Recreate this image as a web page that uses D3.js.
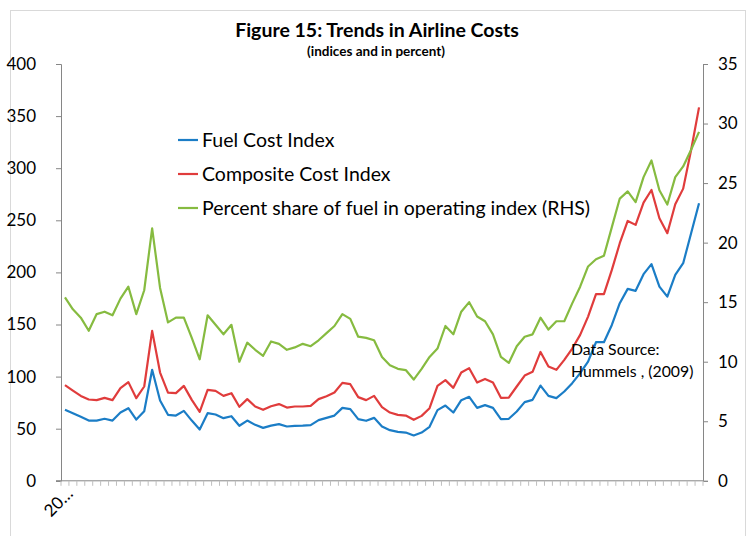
<!DOCTYPE html>
<html>
<head>
<meta charset="utf-8">
<script src="https://cdn.jsdelivr.net/npm/d3@7"></script>
<style>
  body { margin: 0; background: #fff; }
  text { font-family: Lato, "Open Sans", sans-serif; fill: #000; }
</style>
</head>
<body>
<script>
// series, one value per period (81 periods)
var fuelIndex = [68.1, 64.9, 61.4, 57.8, 57.8, 59.5, 57.8, 65.5, 69.7, 58.8, 66.8, 106.5, 77.0, 63.3, 62.6, 67.1, 57.8, 49.2, 64.9, 63.6, 60.1, 62.0, 52.8, 57.8, 53.7, 50.8, 53.0, 54.4,
  52.1, 52.8, 53.0, 53.4, 58.2, 60.4, 62.6, 70.0, 68.8, 59.2, 57.6, 60.4, 52.1, 48.6, 47.0, 46.3, 43.5, 46.3, 51.8, 67.8, 72.2, 65.5, 77.4, 80.6, 70.0, 72.6, 70.0, 59.2, 59.5,
  66.5, 75.5, 77.7, 91.4, 81.5, 79.3, 85.7, 93.7, 103.3, 114.4, 133.0, 133.0, 149.6, 170.4, 184.2, 182.3, 198.3, 207.9, 186.4, 176.8, 197.6, 208.8, 237.6, 266.4];

var compositeIndex = [91.8, 86.6, 81.5, 78.0, 77.4, 79.6, 77.4, 88.9, 94.7, 79.3, 90.5, 143.9, 103.9, 84.7, 84.1, 91.1, 77.7, 66.2, 87.3, 86.3, 81.5, 84.1, 71.0, 78.4, 71.3, 68.1, 71.6, 73.6,
  70.3, 71.3, 71.3, 71.9, 78.4, 81.2, 84.7, 94.0, 92.7, 80.3, 77.4, 81.5, 70.7, 65.5, 63.3, 62.6, 58.5, 62.3, 69.7, 91.1, 96.6, 89.2, 103.9, 108.1, 94.3, 97.8, 94.3, 79.6, 79.9,
  90.5, 101.0, 104.6, 123.7, 109.6, 106.5, 116.1, 126.9, 140.0, 157.6, 179.1, 179.1, 202.4, 228.0, 249.4, 245.6, 266.9, 279.1, 252.0, 237.6, 265.4, 280.4, 317.5, 358.4];

var fuelShare = [15.4, 14.4, 13.7, 12.6, 14.0, 14.2, 13.9, 15.3, 16.3, 14.0, 16.0, 21.2, 16.2, 13.3, 13.7, 13.7, 12.0, 10.2, 13.9, 13.1, 12.3, 13.1, 10.0, 11.6, 11.0, 10.5, 11.7, 11.5,
  11.0, 11.2, 11.5, 11.3, 11.8, 12.4, 13.0, 14.0, 13.6, 12.1, 12.0, 11.8, 10.4, 9.7, 9.4, 9.3, 8.5, 9.4, 10.4, 11.1, 13.0, 12.3, 14.2, 15.0, 13.8, 13.4, 12.3, 10.4, 9.9,
  11.3, 12.1, 12.3, 13.7, 12.7, 13.4, 13.4, 14.9, 16.3, 18.0, 18.6, 18.9, 21.3, 23.7, 24.3, 23.4, 25.5, 26.9, 24.4, 23.2, 25.5, 26.4, 27.8, 29.3];

var periods = d3.range(fuelIndex.length);
var periodLabels = ["20\u2026"];   // Excel only shows the first, truncated
var leftTicks = [0, 50, 100, 150, 200, 250, 300, 350, 400];
var rightTicks = [0, 5, 10, 15, 20, 25, 30, 35];

var legendNames = ["Fuel Cost Index", "Composite Cost Index", "Percent share of fuel in operating index (RHS)"];
var colors = ["#1b7dc6", "#e03c3c", "#86bb40"];

var W = 749, H = 536;
var margin = {top: 64, right: 46, bottom: 55, left: 61};

var svg = d3.select("body").append("svg")
    .attr("width", W)
    .attr("height", H);

// chart area border
svg.append("rect")
    .attr("x", 10.5).attr("y", 10.5)
    .attr("width", 735).attr("height", 540)
    .attr("fill", "none")
    .attr("stroke", "#d9d9d9");

var x = d3.scalePoint()
    .domain(periods)
    .range([margin.left, W - margin.right])
    .padding(0.5);

var yL = d3.scaleLinear().domain([0, 400]).range([H - margin.bottom - 0.2, margin.top]);
var yR = d3.scaleLinear().domain([0, 35]).range([H - margin.bottom - 0.2, margin.top]);

// title
svg.append("text")
    .attr("x", 377).attr("y", 37)
    .attr("text-anchor", "middle")
    .style("font-weight", "bold")
    .style("font-size", "19.5px")
    .text("Figure 15: Trends in Airline Costs");

svg.append("text")
    .attr("x", 376).attr("y", 56)
    .attr("text-anchor", "middle")
    .style("font-weight", "bold")
    .style("font-size", "13.5px")
    .text("(indices and in percent)");

// axes
var axisColor = "#868686";

var gL = svg.append("g")
    .attr("transform", "translate(" + margin.left + ",0)")
    .call(d3.axisLeft(yL).tickValues(leftTicks).tickSize(5).tickPadding(20));

var gR = svg.append("g")
    .attr("transform", "translate(" + (W - margin.right) + ",0)")
    .call(d3.axisRight(yR).tickValues(rightTicks).tickSize(5).tickPadding(10));

[gL, gR].forEach(function(g) {
  g.select(".domain").attr("stroke", axisColor);
  g.selectAll(".tick line").attr("stroke", axisColor);
  g.selectAll(".tick text")
    .style("font-family", "Lato, sans-serif")
    .style("font-size", "17px")
    .attr("fill", "#000");
});

// category axis: one tick between each period
var step = x.step();
var xAxisG = svg.append("g");
xAxisG.append("line")
    .attr("x1", margin.left - 5).attr("x2", W - margin.right)
    .attr("y1", yL(0)).attr("y2", yL(0))
    .attr("stroke", axisColor);
xAxisG.selectAll(".xt")
    .data(periods.concat([periods.length]))
    .enter().append("line")
    .attr("x1", function(d) { return x(0) - step / 2 + d * step; })
    .attr("x2", function(d) { return x(0) - step / 2 + d * step; })
    .attr("y1", yL(0))
    .attr("y2", yL(0) + 5)
    .attr("stroke", "#bfbfbf");

xAxisG.selectAll(".xl")
    .data(periodLabels)
    .enter().append("text")
    .attr("text-anchor", "end")
    .attr("transform", function(d, i) {
      return "translate(" + (x(i) + 9) + "," + (yL(0) + 14) + ") rotate(-45)";
    })
    .style("font-size", "17px")
    .text(function(d) { return d; });

// lines
var lineL = d3.line()
    .x(function(d, i) { return x(i); })
    .y(function(d) { return yL(d); });
var lineR = d3.line()
    .x(function(d, i) { return x(i); })
    .y(function(d) { return yR(d); });

svg.append("path").datum(fuelIndex)
    .attr("fill", "none").attr("stroke", colors[0]).attr("stroke-width", 2.2)
    .attr("stroke-linejoin", "round")
    .attr("d", lineL);
svg.append("path").datum(compositeIndex)
    .attr("fill", "none").attr("stroke", colors[1]).attr("stroke-width", 2.2)
    .attr("stroke-linejoin", "round")
    .attr("d", lineL);
svg.append("path").datum(fuelShare)
    .attr("fill", "none").attr("stroke", colors[2]).attr("stroke-width", 2.2)
    .attr("stroke-linejoin", "round")
    .attr("d", lineR);

// legend
var legend = svg.selectAll(".leg")
    .data(legendNames)
    .enter().append("g")
    .attr("transform", function(d, i) { return "translate(178," + (140 + i * 34) + ")"; });
legend.append("line")
    .attr("x1", 0).attr("x2", 20)
    .attr("stroke", function(d, i) { return colors[i]; })
    .attr("stroke-width", 2.2);
legend.append("text")
    .attr("x", 24).attr("y", 7)
    .style("font-size", "19.5px")
    .text(function(d) { return d; });

// source note
svg.append("text")
    .attr("x", 571).attr("y", 355)
    .style("font-size", "15.8px")
    .text("Data Source:");
svg.append("text")
    .attr("x", 571).attr("y", 377)
    .style("font-size", "15.8px")
    .text("Hummels , (2009)");
</script>
</body>
</html>
